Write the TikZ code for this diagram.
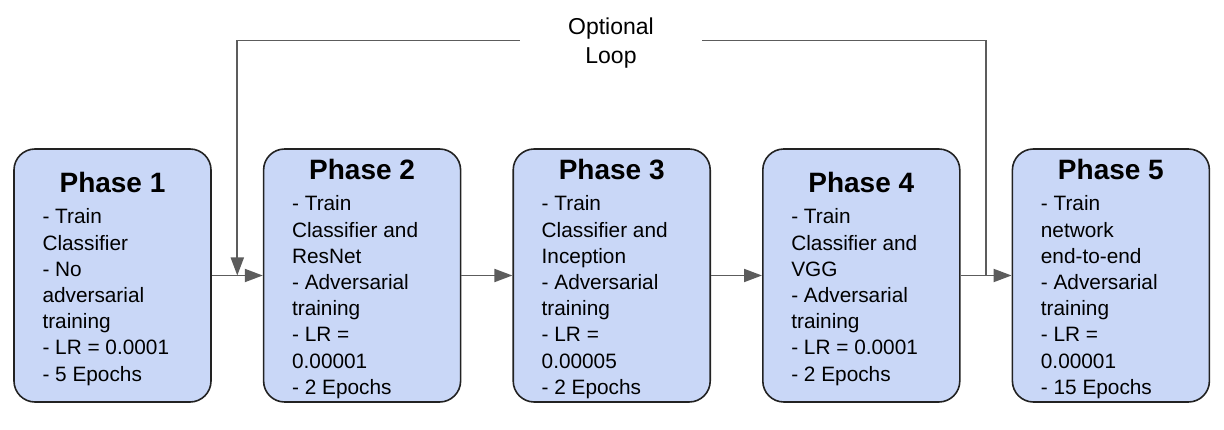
\documentclass[tikz,border=0pt]{standalone}
\usepackage{fontspec}
\setmainfont{Liberation Sans}
\usetikzlibrary{arrows.meta, positioning, calc}
\definecolor{phblue}{HTML}{C9D7F7}
\definecolor{edge}{HTML}{222222}
\definecolor{flow}{HTML}{5C5C5C}

\newcommand{\phasetext}[2]{\raisebox{-3.5pt}[\height][\depth]{\parbox{140pt}{\centering\fontsize{28}{31}\bfseries #1\par
  \vspace{5pt}\raggedright\fontsize{20.8}{26.2}\mdseries #2\par}}}

\tikzset{
  phasebox/.style={draw=edge, fill=phblue, line width=1.6pt, rounded corners=21pt,
    minimum width=197pt, minimum height=253pt, inner sep=0pt},
  flowline/.style={draw=flow, line width=1.9pt},
  flowarrow/.style={flowline, -{Triangle[length=18pt, width=13pt]}}
}

\begin{document}
\begin{tikzpicture}[x=1pt, y=-1pt]
\useasboundingbox (0,0) rectangle (1224,430);

% Phases
\node[phasebox] (p1) at (112.5,275.5) {\phasetext{Phase 1}{- Train\\Classifier\\- No\\adversarial\\training\\- LR = 0.0001\\- 5 Epochs}};
\node[phasebox, right=51pt of p1] (p2) {\phasetext{Phase 2}{- Train\\Classifier and\\ResNet\\- Adversarial\\training\\- LR =\\0.00001\\- 2 Epochs}};
\node[phasebox, right=51pt of p2] (p3) {\phasetext{Phase 3}{- Train\\Classifier and\\Inception\\- Adversarial\\training\\- LR =\\0.00005\\- 2 Epochs}};
\node[phasebox, right=51pt of p3] (p4) {\phasetext{Phase 4}{- Train\\Classifier and\\VGG\\- Adversarial\\training\\- LR = 0.0001\\- 2 Epochs}};
\node[phasebox, right=51pt of p4] (p5) {\phasetext{Phase 5}{- Train\\network\\end-to-end\\- Adversarial\\training\\- LR =\\0.00001\\- 15 Epochs}};

% Connectors
\draw[flowarrow] (p1) -- (p2);
\draw[flowarrow] (p2) -- (p3);
\draw[flowarrow] (p3) -- (p4);
\draw[flowarrow] (p4) -- (p5);

% Optional loop
\coordinate (c12) at ($(p1.east)!0.5!(p2.west)$);
\coordinate (c45) at ($(p4.east)!0.5!(p5.west)$);
\node[align=center, font=\fontsize{23}{29}\selectfont, minimum width=182pt, inner sep=0pt] (loop) at (611,43) {Optional\\Loop};
\draw[flowline] ([yshift=2.5pt]loop.east) -| (c45);
\draw[flowarrow] ([yshift=2.5pt]loop.west) -| (c12);

\end{tikzpicture}
\end{document}
